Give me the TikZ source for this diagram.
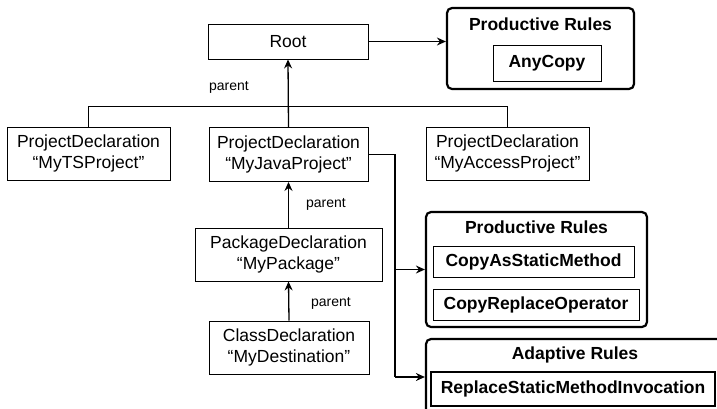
\documentclass[tikz,border=0pt]{standalone}
\usepackage{fontspec}
\setmainfont{Liberation Sans}
\usetikzlibrary{arrows.meta}
\begin{document}
\begin{tikzpicture}[x=1pt,y=-1pt,
  every node/.style={font=\fontsize{17.5}{21}\selectfont},
  box/.style={draw, line width=0.9pt, align=center, inner sep=0pt},
  rulebox/.style={draw, line width=2.2pt, rounded corners=5pt, inner sep=0pt},
  thickbox/.style={draw, line width=2.2pt, align=center, inner sep=0pt},
  ttl/.style={font=\fontsize{17.5}{21}\selectfont\bfseries, inner sep=0pt},
  lbl/.style={font=\fontsize{14}{16}\selectfont, inner sep=0pt},
  conn/.style={line width=1.3pt},
  arr/.style={conn, -{Stealth[length=9pt,width=8pt,inset=3pt]}}]
\clip (0,0) rectangle (717,408);
% tree nodes
\node[box, minimum width=160pt, minimum height=35pt] (root) at (288,41.5) {Root};
\node[box, minimum width=163pt, minimum height=53pt] (ts) at (88.5,153.5) {ProjectDeclaration\\“MyTSProject”};
\node[box, minimum width=159pt, minimum height=54pt] (java) at (288.5,154.5) {ProjectDeclaration\\“MyJavaProject”};
\node[box, minimum width=163pt, minimum height=53pt] (access) at (507.5,153.5) {ProjectDeclaration\\“MyAccessProject”};
\node[box, minimum width=187pt, minimum height=53pt] (pkg) at (288.5,254.5) {PackageDeclaration\\“MyPackage”};
\node[box, minimum width=160pt, minimum height=53pt] (cls) at (289,347.5) {ClassDeclaration\\“MyDestination”};
% rule containers
\node[rulebox, minimum width=187pt, minimum height=81pt] (pr1) at (540.5,48.5) {};
\node[ttl] (pr1t) at (540.5,24) {Productive Rules};
\node[box, minimum width=108pt, minimum height=36pt, font=\fontsize{17.5}{21}\selectfont\bfseries] (any) at (547,63) {AnyCopy};
\node[rulebox, minimum width=221pt, minimum height=115pt] (pr2) at (536.5,269.5) {};
\node[ttl] (pr2t) at (536.5,227) {Productive Rules};
\node[box, minimum width=201pt, minimum height=31pt, font=\fontsize{17.5}{21}\selectfont\bfseries] (casm) at (533.5,261.5) {CopyAsStaticMethod};
\node[box, minimum width=206pt, minimum height=31pt, font=\fontsize{17.5}{21}\selectfont\bfseries] (cro) at (536,304.5) {CopyReplaceOperator};
\node[rulebox, minimum width=298pt, minimum height=100pt] (ad) at (575,389) {};
\node[ttl] (adt) at (575,355) {Adaptive Rules};
\node[thickbox, minimum width=284pt, minimum height=34pt, font=\fontsize{17.5}{21}\selectfont\bfseries] (rsmi) at (573,389) {ReplaceStaticMethodInvocation};
% connectors
\draw[arr] (root.east) -- (pr1.west |- root.east);
\draw[arr] (java.north) -- (root.south);
\draw[conn] (ts.north) -- ++(0,-20) -| (access.north);
\node[lbl] (p1) at (229,87) {parent};
\draw[arr] (pkg.north) -- (java.south);
\node[lbl] (p2) at (326,204) {parent};
\draw[arr] (cls.north) -- (pkg.south);
\node[lbl] (p3) at (331,303) {parent};
\coordinate (j1) at (395,154.5);
\coordinate (j2) at (395,377);
\draw[conn] (java.east) -- (j1) -- (j2);
\draw[arr] (j1 |- pr2.west) -- (pr2.west);
\draw[arr] (j2) -- (j2 -| ad.west);
\end{tikzpicture}
\end{document}
